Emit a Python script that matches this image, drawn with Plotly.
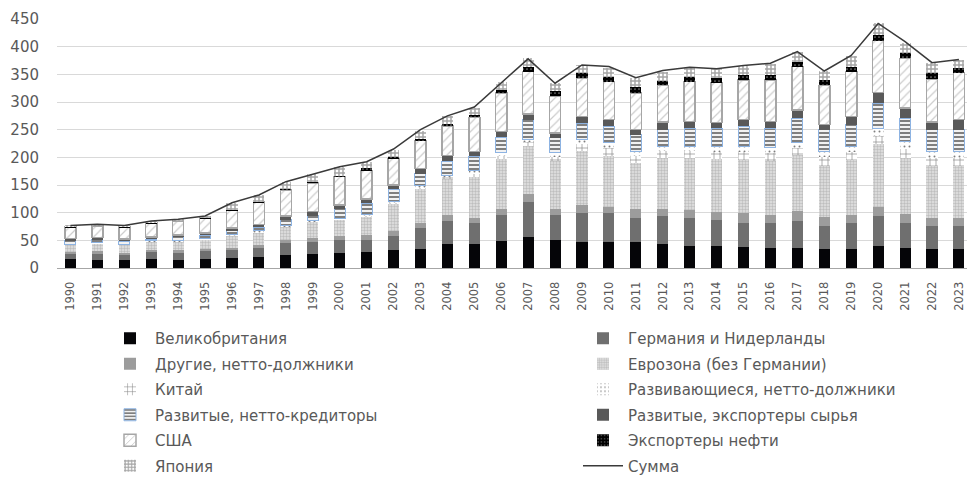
import plotly.graph_objects as go

years = [str(y) for y in range(1990, 2024)]

uk      = [16,14,14,16,14,16,18,20,23,25,27,29,32,34,43,43,49,56,51,47,47,47,44,40,40,38,36,36,34,34,40,36,34,34]
de_nl   = [11,13,11,13,14,14,14,17,22,22,24,22,26,39,42,39,47,64,45,52,52,44,50,50,47,44,45,49,42,47,54,45,42,42]
other   = [2,3,2,3,4,4,4,5,5,7,7,9,9,9,11,9,11,14,11,15,12,16,13,15,14,17,15,18,16,15,17,17,15,15]
euro    = [13,15,15,16,16,17,23,22,25,30,29,33,49,61,64,74,90,86,86,98,91,83,92,94,96,97,97,102,93,100,113,101,93,93]
china   = [0,0,0,0,0,0,0,1,0,0,1,1,2,3,5,4,6,7,8,12,14,12,12,12,13,14,14,12,15,14,14,16,15,15]
em_debt = [1,1,1,1,1,2,2,3,2,2,2,2,2,3,3,7,5,6,7,8,10,8,9,9,10,10,10,9,11,10,15,14,12,12]
adv_cred= [6,6,5,3,8,6,6,6,10,8,17,21,22,21,25,26,28,35,27,30,30,31,30,33,33,36,36,45,39,39,45,42,39,39]
adv_comm= [4,3,4,4,3,4,5,5,7,8,7,8,8,10,10,9,11,10,9,12,12,9,14,12,10,12,12,15,9,15,19,18,14,18]
usa     = [21,21,22,25,25,27,32,40,47,52,51,51,48,50,54,61,69,77,66,69,69,66,66,72,72,72,75,78,71,81,94,90,78,85]
oil     = [1,1,1,1,1,1,1,1,2,1,2,5,2,3,4,4,6,9,9,9,9,11,8,9,8,9,9,9,9,9,10,9,10,8]
japan   = [2,2,2,3,2,3,12,12,12,14,15,10,13,15,13,13,15,15,15,14,15,16,17,15,18,16,19,18,17,20,21,19,18,15]
total   = [77,79,77,85,88,94,118,132,156,170,183,192,215,250,275,291,335,378,334,367,364,344,357,363,360,366,370,391,356,384,442,409,371,377]

names = ["Великобритания", "Германия и Нидерланды", "Другие, нетто-должники",
         "Еврозона (без Германии)", "Китай", "Развивающиеся, нетто-должники",
         "Развитые, нетто-кредиторы", "Развитые, экспортеры сырья", "США",
         "Экспортеры нефти", "Япония"]
series = [uk, de_nl, other, euro, china, em_debt, adv_cred, adv_comm, usa, oil, japan]
legend_of = ["legend", "legend2", "legend", "legend2", "legend", "legend2",
             "legend", "legend2", "legend", "legend2", "legend"]

styles = [
    dict(color="#050508", line=dict(width=0)),
    dict(color="#6f6f6f", line=dict(width=0)),
    dict(color="#9c9c9c", line=dict(width=0)),
    dict(color="#c8c8c8", line=dict(width=0),
         pattern=dict(shape=".", fgcolor="#9a9a9a", bgcolor="#e2e2e2", size=3, solidity=0.5)),
    dict(color="white", line=dict(width=0),
         pattern=dict(shape="+", fgcolor="#000000", bgcolor="#ffffff", size=6, solidity=0.2)),
    dict(color="white", line=dict(width=0),
         pattern=dict(shape=".", fgcolor="#000000", bgcolor="#ffffff", size=5, solidity=0.12)),
    dict(color="white", line=dict(width=1, color="#8db3e2"),
         pattern=dict(shape="-", fgcolor="#000000", bgcolor="#ffffff", size=4, solidity=0.55)),
    dict(color="#595959", line=dict(width=0)),
    dict(color="white", line=dict(width=1.5, color="#a6a6a6"),
         pattern=dict(shape="/", fgcolor="#9a9a9a", bgcolor="#ffffff", size=6, solidity=0.2)),
    dict(color="black", line=dict(width=0),
         pattern=dict(shape=".", fgcolor="#ffffff", bgcolor="#000000", size=4, solidity=0.15)),
    dict(color="white", line=dict(width=0),
         pattern=dict(shape="+", fgcolor="#4a4a4a", bgcolor="#ffffff", size=4, solidity=0.6)),
]

fig = go.Figure()
for name, vals, st, lg in zip(names, series, styles, legend_of):
    fig.add_trace(go.Bar(x=years, y=vals, name=name, marker=st,
                         legend=lg, legendgroup=name))

fig.add_trace(go.Scatter(x=years, y=total, name="Сумма", mode="lines",
                         line=dict(color="#3a3a3a", width=1.5),
                         legend="legend2", legendgroup="Сумма"))

W, H = 967, 477
L, T, B = 57, 19, 209

legend_common = dict(
    xref="container", yref="container", xanchor="left", yanchor="top",
    orientation="v", traceorder="grouped", tracegroupgap=3,
    font=dict(family="DejaVu Sans", size=15, color="#595959"),
    bgcolor="rgba(0,0,0,0)", itemwidth=40,
)

fig.update_layout(
    width=W, height=H,
    margin=dict(l=L, r=0, t=T, b=B, pad=0, autoexpand=False),
    paper_bgcolor="white", plot_bgcolor="white",
    barmode="stack", bargap=0.59,
    font=dict(family="DejaVu Sans", color="#595959"),
    legend=dict(x=105/W, y=1 - 322/H, **legend_common),
    legend2=dict(x=578/W, y=1 - 322/H, **legend_common),
    xaxis=dict(type="category", range=[-0.5, 33.3], tickangle=-90,
               tickfont=dict(size=11.5, color="#595959"),
               showline=True, linecolor="#a6a6a6", linewidth=1,
               showgrid=False, ticks="", ticklabelstandoff=8),
    yaxis=dict(range=[0, 450], dtick=50, tickfont=dict(size=15, color="#595959"),
               showgrid=True, gridcolor="#d9d9d9", gridwidth=1,
               zeroline=False, showline=False, ticks="", ticklabelstandoff=17),
    showlegend=True,
)

fig.write_html("out.html",
               config={"displayModeBar": False},
               post_script="document.body.style.margin='0';document.body.style.overflow='hidden';")
